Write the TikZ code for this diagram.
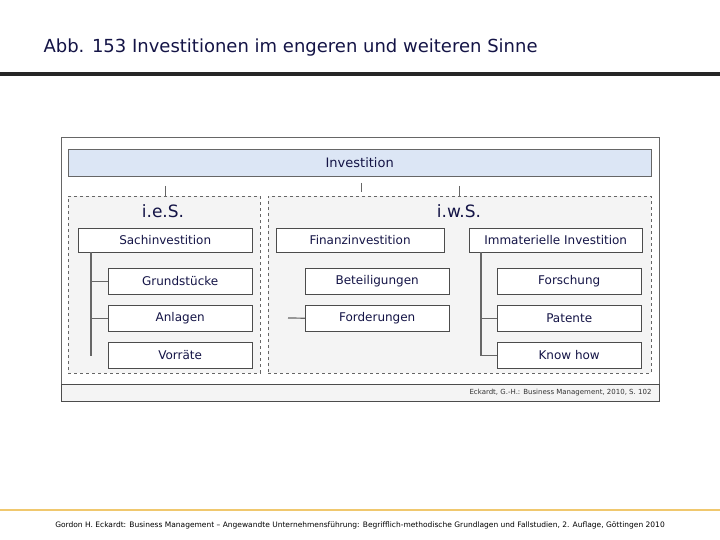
\documentclass[tikz,border=0pt]{standalone}
\usepackage{fontspec}
\setmainfont{DejaVu Sans}
\usepackage{tikz}
\usetikzlibrary{positioning}
\definecolor{navy}{RGB}{20,20,70}
\definecolor{headblue}{RGB}{220,230,245}
\definecolor{panelgray}{RGB}{244,244,244}
\definecolor{gold}{RGB}{240,200,110}

\begin{document}
\begin{tikzpicture}[
        x=1pt, y=-1pt,
        every node/.style={text=navy, align=center},
        box/.style={rectangle, draw=black!70, fill=white, inner sep=0pt, font=\fontsize{12}{14}\selectfont},
        group/.style={rectangle, draw=black!60, dashed, fill=panelgray, inner sep=0pt},
        tree/.style={draw=black!60, line width=1.2pt}
    ]
    \useasboundingbox (0,0) rectangle (720,540);
    % Title
    \node[anchor=west, font=\fontsize{18}{21}\selectfont] (title) at (40,48) {Abb. 153 Investitionen im engeren und weiteren Sinne};
    \draw[line width=3.5pt, black!85] (0,74) -- (720,74);
    % Frame
    \node[rectangle, draw=black!60, line width=1pt, fill=white, minimum width=598pt, minimum height=264pt, anchor=north west, inner sep=0pt] (frame) at (61,137) {};
    \node[rectangle, draw=black!70, line width=1pt, fill=panelgray, minimum width=598pt, minimum height=17pt, anchor=north west, inner sep=0pt] (source) at (61,384) {};
    \node[anchor=east, font=\fontsize{7}{8}\selectfont, text=black!80] (cite) at (655,393) {Eckardt, G.-H.: Business Management, 2010, S. 102};
    % Top
    \node[rectangle, draw=black!60, fill=headblue, minimum width=583pt, minimum height=27pt, anchor=north west, inner sep=0pt] (invest) at (68,149) {};
    \node[font=\fontsize{13}{15}\selectfont] at (invest.center) {Investition};
    % Groups
    \node[group, minimum width=192pt, minimum height=177pt, anchor=north west] (ies) at (68,196) {};
    \node[group, minimum width=383pt, minimum height=177pt, anchor=north west] (iws) at (268,196) {};
    \node[font=\fontsize{17}{20}\selectfont] (iesl) at (163,211) {i.e.S.};
    \node[font=\fontsize{17}{20}\selectfont] (iwsl) at (459,211) {i.w.S.};
    \draw[tree, thin] (165,186) -- (165,196);
    \draw[tree, thin] (361,183) -- (361,192);
    \draw[tree, thin] (459,186) -- (459,196);
    % Level 2
    \node[box, minimum width=174pt, minimum height=24pt, anchor=north west] (sach) at (78,228) {Sachinvestition};
    \node[box, minimum width=168pt, minimum height=24pt, anchor=north west] (finanz) at (276,228) {Finanzinvestition};
    \node[box, minimum width=173pt, minimum height=24pt, anchor=north west] (immat) at (469,228) {Immaterielle Investition};
    % Level 3
    \foreach \name/\txt/\x/\y in {grund/Grundstücke/108/268, anlagen/Anlagen/108/305, vorraete/Vorräte/108/342,
        beteil/Beteiligungen/305/268, forder/Forderungen/305/305,
        forsch/Forschung/497/268, patente/Patente/497/305, know/Know how/497/342}
        \node[box, minimum width=144pt, minimum height=26pt, anchor=north west] (\name) at (\x,\y) {\txt};
    % Lines
    \coordinate (sachtop) at (91,252);
    \coordinate (sachbot) at (91,356);
    \draw[tree] (sachtop) -- (sachbot);
    \draw[tree] (grund.west -| sachtop) -- (grund.west);
    \draw[tree] (anlagen.west -| sachtop) -- (anlagen.west);
    \coordinate (finstub) at (288,318);
    \draw[tree] (finstub) -- (forder.west);
    \coordinate (immtop) at (481,252);
    \draw[tree] (immtop) -- (know.west -| immtop) -- (know.west);
    \draw[tree] (patente.west -| immtop) -- (patente.west);
    % Footer
    \draw[line width=2.5pt, gold] (0,510) -- (720,510);
    \node[font=\fontsize{7.5}{9}\selectfont, text=black] (foot) at (360,525) {Gordon H. Eckardt: Business Management -- Angewandte Unternehmensführung: Begrifflich-methodische Grundlagen und Fallstudien, 2. Auflage, Göttingen 2010};
\end{tikzpicture}
\end{document}
